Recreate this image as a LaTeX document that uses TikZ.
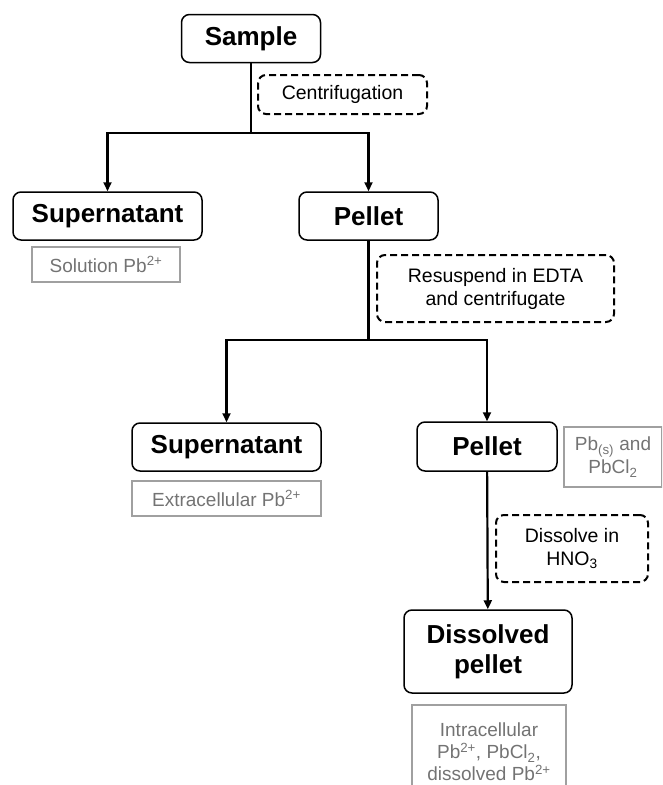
\documentclass[tikz,border=0pt]{standalone}
\usepackage{fontspec}
\setmainfont{Liberation Sans}
\usetikzlibrary{arrows.meta}
\definecolor{notegray}{RGB}{115,115,115}
\definecolor{noteline}{RGB}{160,160,160}
\begin{document}
\begin{tikzpicture}[x=1pt,y=-1pt,
 mainbox/.style={draw, line width=1.5pt, rounded corners=8pt, font=\fontsize{26}{30}\selectfont\bfseries, align=center, inner sep=0pt},
 stepbox/.style={draw, line width=2pt, dash pattern=on 7pt off 4pt, rounded corners=8pt, font=\fontsize{19.5}{23}\selectfont, align=center, inner sep=0pt},
 notebox/.style={draw=noteline, line width=1.5pt, text=notegray, font=\fontsize{19}{23}\selectfont, align=center, inner sep=0pt},
 conn/.style={line width=2.2pt},
 arr/.style={conn, -{Triangle[length=9pt,width=8pt]}}]
\useasboundingbox (0,0) rectangle (662,785);
\clip (0,0) rectangle (662,785);

\node[mainbox, minimum width=139pt, minimum height=48pt] (sample) at (251,38.5) {Sample};
\node[stepbox, minimum width=169pt, minimum height=39pt] (cent) at (342.5,94.5) {Centrifugation};
\node[mainbox, minimum width=189pt, minimum height=48pt] (sup1) at (107.5,216) {Supernatant};
\node[notebox, minimum width=148pt, minimum height=35pt] (sol) at (106,264.5) {Solution Pb\textsuperscript{2+}};
\node[mainbox, minimum width=139pt, minimum height=48pt] (pel1) at (368.5,216) {Pellet};
\node[stepbox, minimum width=237pt, minimum height=67pt] (resus) at (495.5,288.5) {Resuspend in EDTA\\and centrifugate};
\node[mainbox, minimum width=189pt, minimum height=48pt] (sup2) at (226.5,447) {Supernatant};
\node[notebox, minimum width=189pt, minimum height=35pt] (extra) at (226.5,498.5) {Extracellular Pb\textsuperscript{2+}};
\node[mainbox, minimum width=140pt, minimum height=49pt] (pel2) at (487,446.5) {Pellet};
\node[notebox, minimum width=98pt, minimum height=60pt] (pbs) at (613,457) {Pb\textsubscript{(s)} and\\PbCl\textsubscript{2}};
\node[stepbox, minimum width=152pt, minimum height=67pt] (diss) at (572,548.5) {Dissolve in\\HNO\textsubscript{3}};
\node[mainbox, minimum width=168pt, minimum height=83pt] (dpel) at (488,651.5) {Dissolved\\pellet};
\node[notebox, font=\fontsize{19}{22}\selectfont, minimum width=154pt, minimum height=94pt] (intra) at (489,752) {Intracellular\\Pb\textsuperscript{2+}, PbCl\textsubscript{2},\\dissolved Pb\textsuperscript{2+}};

\coordinate (j1) at (251,133);
\coordinate (j2) at (368.5,340);

\draw[conn] (sample) -- (j1);
\draw[arr] (j1) -| (sup1);
\draw[arr] (j1) -| (pel1);
\draw[conn] (pel1) -- (j2);
\draw[arr] (j2) -| (sup2);
\draw[arr] (j2) -| (pel2);
\draw[arr] (pel2) -- (dpel);
\end{tikzpicture}
\end{document}
